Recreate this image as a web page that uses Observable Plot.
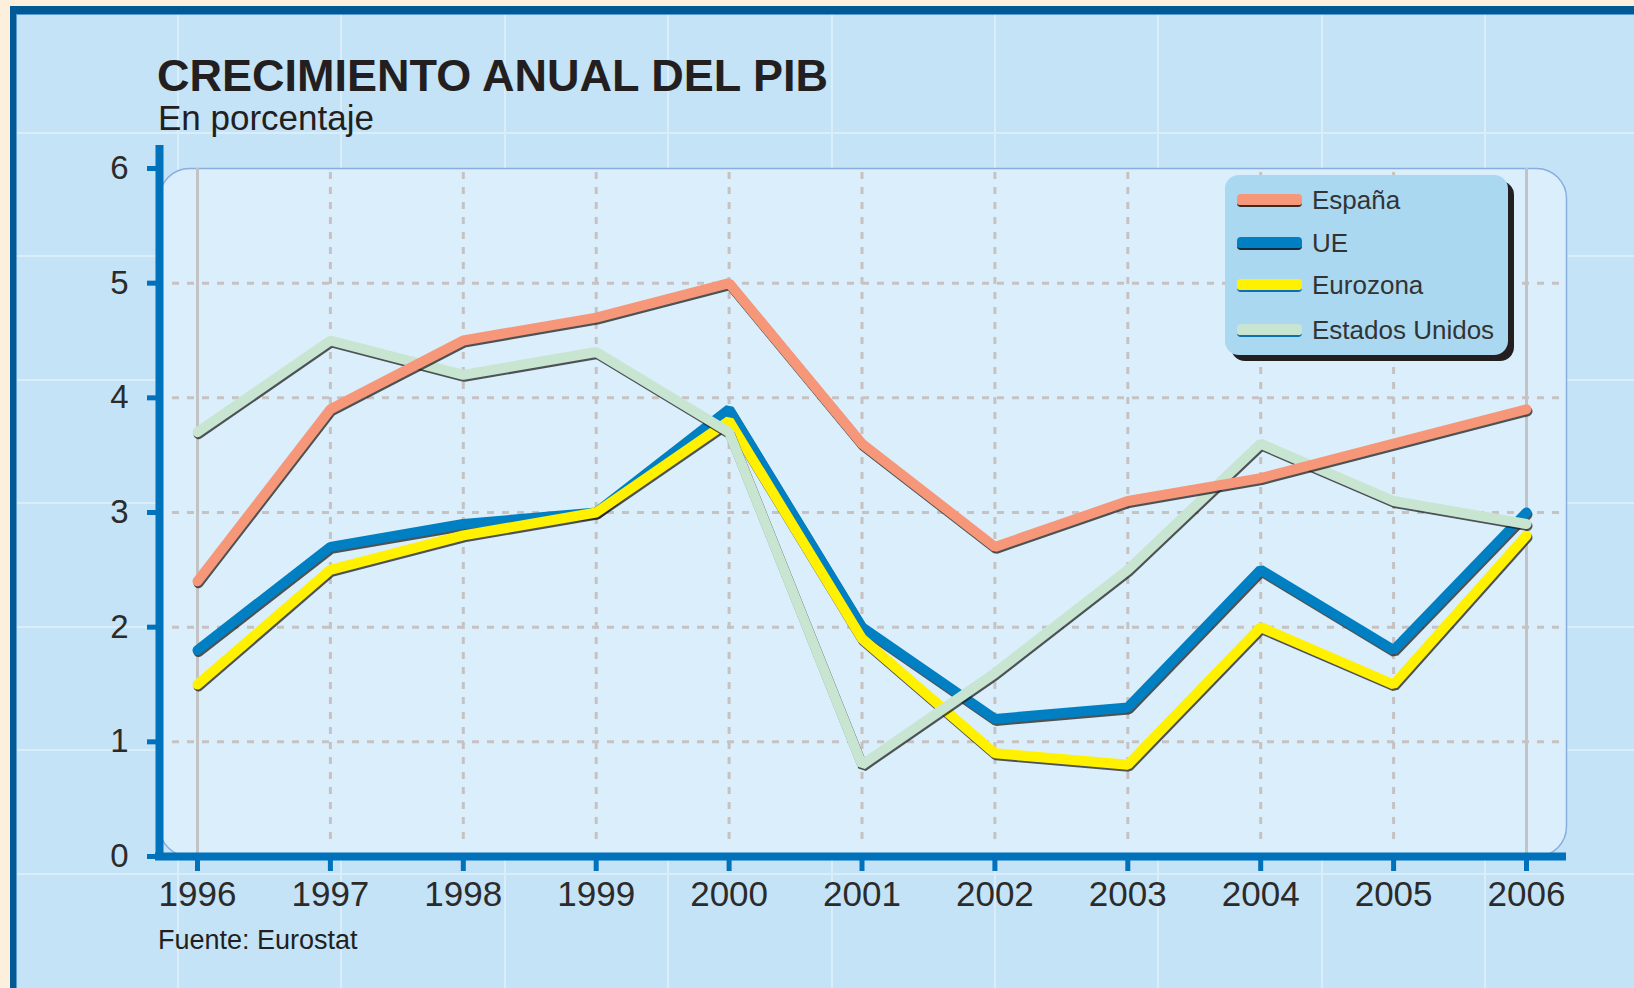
<!DOCTYPE html>
<html>
<head>
<meta charset="utf-8">
<script src="https://cdn.jsdelivr.net/npm/d3@7"></script>
<script src="https://cdn.jsdelivr.net/npm/@observablehq/plot@0.6"></script>
<style>
html, body { margin:0; padding:0; width:1634px; height:988px; overflow:hidden; background:#fcf0dc; font-family:"Liberation Sans", Arial, sans-serif; }
#panel { position:absolute; left:10px; top:6px; width:1700px; height:1100px; box-sizing:border-box;
  border-left:6px solid #015a95; border-top:8px solid #015a95;
  box-shadow: inset 1px 1px 0 #5d9bd0;
  background-color:#c5e3f6;
  background-image:
    repeating-linear-gradient(to bottom, transparent 0px, transparent 118px, #d9edfa 118px, #d9edfa 120px, transparent 120px, transparent 123.5px),
    repeating-linear-gradient(to right, transparent 0px, transparent 161px, #d9edfa 161px, #d9edfa 163px, transparent 163px, transparent 163.4px);
}
#chart { position:absolute; left:0; top:0; }
.txt { position:absolute; white-space:nowrap; color:#231f20; }
#title { left:157px; top:56px; font-size:45px; line-height:0.9; font-weight:bold; }
#subtitle { left:158px; top:100px; font-size:35px; line-height:1; }
#source { left:158px; top:927px; font-size:27px; line-height:1; }
#legend { position:absolute; left:1225px; top:175px; width:283px; height:180px; background:#a9d8f0; border-radius:14px; box-shadow:6px 6px 0 #231f20; }
.row { position:absolute; left:12px; height:30px; }
.sw { position:absolute; left:0; top:9px; width:65px; height:11px; border-radius:4px; }
.lab { position:absolute; left:75px; top:2px; font-size:26px; line-height:1; color:#333; white-space:nowrap; }
</style>
</head>
<body>
<div id="panel"></div>
<div id="chart"></div>
<div class="txt" id="title">CRECIMIENTO ANUAL DEL PIB</div>
<div class="txt" id="subtitle">En porcentaje</div>
<div class="txt" id="source">Fuente: Eurostat</div>
<div id="legend"></div>
<script>
// ---- data ----
const years = [1996, 1997, 1998, 1999, 2000, 2001, 2002, 2003, 2004, 2005, 2006];
const espana   = [2.4, 3.9, 4.5, 4.7, 5.0, 3.6, 2.7, 3.1, 3.3, 3.6, 3.9];
const ue       = [1.8, 2.7, 2.9, 3.0, 3.9, 2.0, 1.2, 1.3, 2.5, 1.8, 3.0];
const eurozona = [1.5, 2.5, 2.8, 3.0, 3.8, 1.9, 0.9, 0.8, 2.0, 1.5, 2.8];
const eeuu     = [3.7, 4.5, 4.2, 4.4, 3.7, 0.8, 1.6, 2.5, 3.6, 3.1, 2.9];
const seriesNames  = ["España", "UE", "Eurozona", "Estados Unidos"];
const seriesColors = ["#f7977a", "#0080c2", "#fff100", "#c8e5d2"];
const swatchEdges  = ["#3a2a26", "#1a2a3a", "#0a70b0", "#0a70b0"];
const yTicks = [0, 1, 2, 3, 4, 5, 6];
const gridYears = [1997, 1998, 1999, 2000, 2001, 2002, 2003, 2004, 2005];
const edgeYears = [1996, 2006];
const gridValues = [1, 2, 3, 4, 5];

const seriesValues = [espana, ue, eurozona, eeuu];
const rowsOf = (vals, name) => years.map((year, i) => ({year, value: vals[i], name}));
const drawOrder = [1, 2, 3, 0]; // UE, Eurozona, EE.UU., España on top

const axisBlue = "#0071bb";
const marks = [
  Plot.frame({fill: "#dbeefb", stroke: "#88aedf", strokeWidth: 1.5, rx: 30}),
  Plot.ruleY(gridValues, {stroke: "#c6c2c2", strokeWidth: 3, strokeDasharray: "7,8", insetLeft: 13}),
  Plot.ruleX(gridYears, {stroke: "#c6c2c2", strokeWidth: 3, strokeDasharray: "7,8", insetTop: 4, insetBottom: 12}),
  Plot.ruleX(edgeYears, {stroke: "#c3c3c6", strokeWidth: 3})
];
for (const k of drawOrder) {
  const data = rowsOf(seriesValues[k], seriesNames[k]);
  marks.push(Plot.line(data, {x: "year", y: "value", stroke: "#1e1e1e", strokeOpacity: 0.75, strokeWidth: 10, dx: 1, dy: 2, strokeLinejoin: "miter"}));
  marks.push(Plot.line(data, {x: "year", y: "value", stroke: seriesColors[k], strokeWidth: 10, strokeLinejoin: "miter"}));
}
marks.push(
  Plot.ruleX([1996], {dx: -38, stroke: axisBlue, strokeWidth: 8, insetTop: -23, insetBottom: -4}),
  Plot.ruleY([0], {stroke: axisBlue, strokeWidth: 8, insetLeft: -4}),
  Plot.axisX(years, {tickSize: 15, tickPadding: 10, stroke: axisBlue, strokeWidth: 5, fill: "#2b2b2b", fontSize: 35, tickFormat: d => String(d), label: null}),
  Plot.axisY(yTicks, {anchor: "left", tickSize: 12, tickPadding: 19, stroke: axisBlue, strokeWidth: 5, fill: "#2b2b2b", fontSize: 33, tickFormat: d => String(d), label: null})
);

const chart = Plot.plot({
  width: 1634,
  height: 988,
  marginLeft: 159,
  marginRight: 68,
  marginTop: 168,
  marginBottom: 132,
  x: {domain: [1996, 2006], range: [197, 1526]},
  y: {domain: [0, 6]},
  style: {background: "transparent", fontFamily: "'Liberation Sans', Arial, sans-serif", overflow: "visible"},
  marks
});
document.getElementById("chart").appendChild(chart);

// legend
const legend = document.getElementById("legend");
const rowTops = [10, 53, 95, 140];
seriesNames.forEach((name, i) => {
  const row = document.createElement("div");
  row.className = "row";
  row.style.top = rowTops[i] + "px";
  const sw = document.createElement("div");
  sw.className = "sw";
  sw.style.background = seriesColors[i];
  sw.style.borderBottom = "2px solid " + swatchEdges[i];
  const lab = document.createElement("div");
  lab.className = "lab";
  lab.textContent = name;
  row.appendChild(sw);
  row.appendChild(lab);
  legend.appendChild(row);
});
</script>
</body>
</html>
